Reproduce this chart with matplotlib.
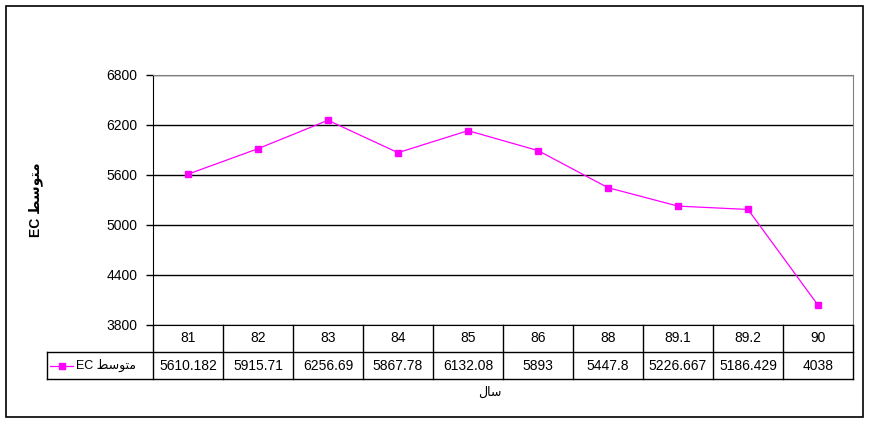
import matplotlib.pyplot as plt
from matplotlib.patches import Rectangle
from matplotlib.lines import Line2D

plt.rcParams['font.family'] = ['Liberation Sans', 'DejaVu Sans']

# data
years = ['81', '82', '83', '84', '85', '86', '88', '89.1', '89.2', '90']
ec_mean = [5610.182, 5915.71, 6256.69, 5867.78, 6132.08, 5893, 5447.8, 5226.667, 5186.429, 4038]
ec_text = ['5610.182', '5915.71', '6256.69', '5867.78', '6132.08', '5893', '5447.8', '5226.667', '5186.429', '4038']
yticks = [3800, 4400, 5000, 5600, 6200, 6800]

# arabic written in presentation forms, visual order (matplotlib has no shaping)
motavaset = '\uFEC2\uFEB3\uFEEE\uFE98\uFEE3'   # متوسط
saal = '\uFEDD\uFE8E\uFEB3'                     # سال
series_name = 'EC ' + motavaset

W, H = 871, 426
fig = plt.figure(figsize=(W / 100, H / 100), dpi=100)

def fx(px):
    return px / W

def fy(py):
    return 1 - py / H

# outer frame
fig.patches.append(Rectangle((fx(6), fy(417)), fx(863) - fx(6), fy(6) - fy(417),
                             transform=fig.transFigure, fill=False, ec='black', lw=1.2))

L, R, T, B = 153, 853, 75, 325
ax = fig.add_axes([fx(L), fy(B), fx(R) - fx(L), fy(T) - fy(B)])
x = list(range(len(years)))
ax.plot(x, ec_mean, color='#FF00FF', lw=0.9, marker='s', ms=5, mec='#FF00FF', mfc='#FF00FF')
ax.set_xlim(-0.5, len(years) - 0.5)
ax.set_ylim(3800, 6800)
ax.set_yticks(yticks)
ax.set_yticklabels([str(t) for t in yticks], fontsize=10)
ax.set_xticks([])
ax.yaxis.grid(True, color='black', lw=1)
ax.tick_params(axis='y', length=5, width=1, color='black', pad=6)
ax.spines['left'].set_color('black')
ax.spines['bottom'].set_color('black')
ax.spines['top'].set_color('#808080')
ax.spines['right'].set_color('#808080')
ax.set_ylabel(series_name, fontsize=10, fontweight='bold', labelpad=46)

# data table under the plot
TL, TB = 47, 379
cw = (R - L) / len(years)
lab_w = (L - TL) / cw
tax = fig.add_axes([fx(TL), fy(TB), fx(R) - fx(TL), fy(B) - fy(TB)])
tax.set_xlim(-0.5 - lab_w, len(years) - 0.5)
tax.set_ylim(0, 2)
tax.axis('off')
lk = dict(color='black', lw=1, clip_on=False)
tax.plot([-0.5 - lab_w, len(years) - 0.5], [0, 0], **lk)
tax.plot([-0.5 - lab_w, len(years) - 0.5], [1, 1], **lk)
tax.plot([-0.5 - lab_w, -0.5 - lab_w], [0, 1], **lk)
for i in range(len(years) + 1):
    tax.plot([i - 0.5, i - 0.5], [0, 2], **lk)
for i, (yr, v) in enumerate(zip(years, ec_text)):
    tax.text(i, 1.5, yr, ha='center', va='center', fontsize=10)
    tax.text(i, 0.5, v, ha='center', va='center', fontsize=10)
# legend key + series name in row header
kx0 = -0.5 - lab_w + 0.05
tax.add_line(Line2D([kx0, kx0 + 0.32], [0.5, 0.5], color='#FF00FF', lw=0.9))
tax.plot([kx0 + 0.16], [0.5], marker='s', ms=5, color='#FF00FF')
tax.text(kx0 + 0.36, 0.5, series_name, ha='left', va='center', fontsize=9)

fig.text(fx(490), fy(392), saal, ha='center', va='center', fontsize=9,
         family=['DejaVu Sans'])

fig.savefig('out.png', dpi=100)
